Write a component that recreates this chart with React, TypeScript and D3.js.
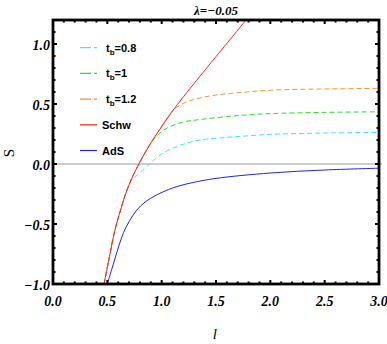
import React, { useEffect, useRef } from "react";
import * as d3 from "d3";

// values
const schwL = [0.47, 0.52, 0.57, 0.62, 0.66, 0.72, 0.79, 0.89, 0.98, 1.09, 1.2, 1.32, 1.5, 1.65, 1.78];
const schwS = [-1.0, -0.77, -0.55, -0.39, -0.27, -0.13, 0.0, 0.16, 0.285, 0.43, 0.56, 0.695, 0.895, 1.06, 1.205];

const tb08L = [0.47, 0.52, 0.57, 0.62, 0.66, 0.71, 0.75, 0.8, 0.85, 0.89, 0.95, 1.05, 1.2, 1.35, 1.6, 1.8, 2.0, 2.5, 3.0];
const tb08S = [-1.0, -0.77, -0.55, -0.39, -0.27, -0.155, -0.115, -0.07, -0.03, 0.0, 0.05, 0.11, 0.165, 0.2, 0.222, 0.235, 0.247, 0.258, 0.263];

const tb1L = [0.47, 0.52, 0.57, 0.62, 0.66, 0.72, 0.79, 0.89, 0.95, 1.05, 1.2, 1.35, 1.6, 1.8, 2.0, 2.5, 3.0];
const tb1S = [-1.0, -0.77, -0.55, -0.39, -0.27, -0.13, 0.0, 0.16, 0.23, 0.3, 0.35, 0.37, 0.395, 0.41, 0.42, 0.43, 0.435];

const tb12L = [0.47, 0.52, 0.57, 0.62, 0.66, 0.72, 0.79, 0.89, 0.98, 1.09, 1.15, 1.25, 1.35, 1.5, 1.66, 2.0, 2.5, 3.0];
const tb12S = [-1.0, -0.77, -0.55, -0.39, -0.27, -0.13, 0.0, 0.16, 0.285, 0.43, 0.48, 0.525, 0.55, 0.575, 0.59, 0.615, 0.625, 0.63];

const adsL = [0.5, 0.55, 0.6, 0.65, 0.7, 0.77, 0.85, 0.95, 1.1, 1.26, 1.5, 2.0, 2.5, 3.0];
const adsS = [-1.0, -0.85, -0.7, -0.57, -0.48, -0.385, -0.315, -0.26, -0.2, -0.16, -0.12, -0.075, -0.05, -0.035];

const xTicks = [0, 0.5, 1, 1.5, 2, 2.5, 3];
const yTicks = [-1, -0.5, 0, 0.5, 1];

const series = [
  { name: "0.8", sub: true, l: tb08L, s: tb08S, color: "#3ee6f0", dash: "5,3" },
  { name: "1", sub: true, l: tb1L, s: tb1S, color: "#2edd2e", dash: "5,3" },
  { name: "1.2", sub: true, l: tb12L, s: tb12S, color: "#ff9030", dash: "5,3" },
  { name: "Schw", sub: false, l: schwL, s: schwS, color: "#ff2020", dash: null },
  { name: "AdS", sub: false, l: adsL, s: adsS, color: "#2020ff", dash: null },
];

const serif = "Liberation Serif";
const sans = "Liberation Sans";

export default function App() {
  const ref = useRef<SVGSVGElement>(null);

  useEffect(() => {
    const svg = d3.select(ref.current);
    svg.selectAll("*").remove();

    const left = 53, right = 379, top = 20, bottom = 284;
    const x = d3.scaleLinear().domain([0, 3]).range([left, right]);
    const y = d3.scaleLinear().domain([-1, 1.2]).range([bottom, top]);

    const defs = svg.append("defs");
    defs.append("clipPath").attr("id", "plotclip")
      .append("rect").attr("x", left).attr("y", top)
      .attr("width", right - left).attr("height", bottom - top);

    // zero line
    svg.append("line")
      .attr("x1", left).attr("x2", right + 3)
      .attr("y1", y(0)).attr("y2", y(0))
      .attr("stroke", "#999").attr("stroke-width", 1);

    const line = d3.line<[number, number]>()
      .x((d) => x(d[0]))
      .y((d) => y(d[1]))
      .curve(d3.curveCatmullRom.alpha(0.5));

    const g = svg.append("g").attr("clip-path", "url(#plotclip)");
    // dashed first, Schw / AdS on top
    [0, 1, 2, 4, 3].forEach((i) => {
      const sr = series[i];
      const pts = sr.l.map((v, k) => [v, sr.s[k]] as [number, number]);
      const p = g.append("path")
        .attr("d", line(pts))
        .attr("fill", "none")
        .attr("stroke", sr.color)
        .attr("stroke-width", 1);
      if (sr.dash) p.attr("stroke-dasharray", sr.dash);
    });

    // ticks (inward on all four sides)
    const tickG = svg.append("g").attr("stroke", "#000");
    for (let i = 0; i <= 30; i++) {
      const px = x(i / 10);
      const len = i % 5 === 0 ? 4 : 2.5;
      tickG.append("line").attr("x1", px).attr("x2", px)
        .attr("y1", bottom).attr("y2", bottom - len).attr("stroke-width", 2);
      tickG.append("line").attr("x1", px).attr("x2", px)
        .attr("y1", top).attr("y2", top + len).attr("stroke-width", 2);
    }
    for (let i = -10; i <= 12; i++) {
      const py = y(i / 10);
      const len = i % 5 === 0 ? 4 : 2.5;
      tickG.append("line").attr("y1", py).attr("y2", py)
        .attr("x1", left).attr("x2", left + len).attr("stroke-width", 2);
      tickG.append("line").attr("y1", py).attr("y2", py)
        .attr("x1", right).attr("x2", right - len).attr("stroke-width", 2);
    }

    // frame
    svg.append("rect")
      .attr("x", left).attr("y", top)
      .attr("width", right - left).attr("height", bottom - top)
      .attr("fill", "none").attr("stroke", "#000").attr("stroke-width", 2.8);

    const fmt = (v: number) => d3.format(".1f")(v).replace("-", "\u2212");

    svg.append("g").selectAll("text").data(xTicks).enter().append("text")
      .attr("x", (d) => x(d)).attr("y", bottom + 22)
      .attr("text-anchor", "middle")
      .attr("font-family", serif)
      .attr("font-style", "italic").attr("font-weight", "bold")
      .attr("font-size", 14)
      .text((d) => fmt(d));

    svg.append("g").selectAll("text").data(yTicks).enter().append("text")
      .attr("x", left - 3).attr("y", (d) => y(d) + 6)
      .attr("text-anchor", "end")
      .attr("font-family", serif)
      .attr("font-style", "italic").attr("font-weight", "bold")
      .attr("font-size", 14)
      .text((d) => fmt(d));

    // title
    svg.append("text")
      .attr("x", (left + right) / 2).attr("y", 15)
      .attr("text-anchor", "middle")
      .attr("font-family", serif)
      .attr("font-style", "italic").attr("font-weight", "bold")
      .attr("font-size", 13)
      .text("\u03bb=\u22120.05");

    // axis labels
    svg.append("text")
      .attr("x", x(1.49)).attr("y", 339)
      .attr("text-anchor", "middle")
      .attr("font-family", serif)
      .attr("font-style", "italic")
      .attr("font-size", 15)
      .text("l");

    svg.append("text")
      .attr("transform", `translate(14,${y(0.09)}) rotate(-90)`)
      .attr("text-anchor", "middle")
      .attr("font-family", serif)
      .attr("font-size", 15)
      .text("S");

    // legend
    const leg = svg.append("g");
    series.forEach((sr, i) => {
      const ly = 47.7 + i * 25.7;
      const ln = leg.append("line")
        .attr("x1", 80).attr("x2", 97)
        .attr("y1", ly).attr("y2", ly)
        .attr("stroke", sr.color).attr("stroke-width", 1.2);
      if (sr.dash) ln.attr("stroke-dasharray", "11,3");
      const t = leg.append("text")
        .attr("x", sr.sub ? 106 : 102).attr("y", ly + 4)
        .attr("font-family", sans)
        .attr("font-weight", "bold")
        .attr("font-size", 11);
      if (sr.sub) {
        t.append("tspan").text("t");
        t.append("tspan").attr("font-size", 8).attr("dy", 3).text("b");
        t.append("tspan").attr("dy", -3).text("=" + sr.name);
      } else {
        t.text(sr.name);
      }
    });
  }, []);

  return (
    <svg
      ref={ref}
      width={387}
      height={344}
      style={{ position: "absolute", left: 0, top: 0, background: "#fff" }}
    />
  );
}
